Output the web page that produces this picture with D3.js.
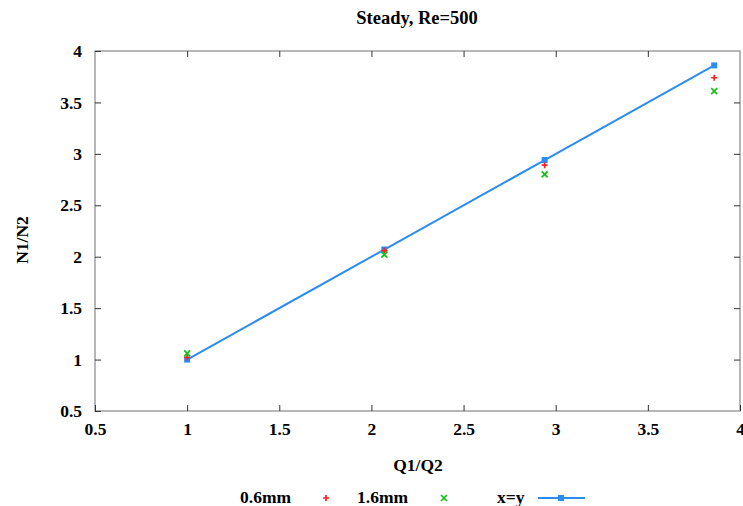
<!DOCTYPE html>
<html><head><meta charset="utf-8">
<script src="https://cdn.jsdelivr.net/npm/d3@7"></script>
<style>body{margin:0;background:#fff;} text{font-family:"Liberation Serif","Times New Roman",serif;font-weight:bold;}</style>
</head><body>
<svg id="c" width="743" height="506"></svg>
<script>
const xTicks = [0.5,1,1.5,2,2.5,3,3.5,4];
const yTicks = [0.5,1,1.5,2,2.5,3,3.5,4];
const qRatio = [1, 2.07, 2.94, 3.86];
const s06 = [1.02, 2.06, 2.89, 3.74];
const s16 = [1.06, 2.02, 2.80, 3.61];
const sxy = [1, 2.07, 2.94, 3.86];

const svg = d3.select("#c");
const L=95, R=740, T=51, B=411;
const x = d3.scaleLinear().domain([0.5,4]).range([L,R]);
const y = d3.scaleLinear().domain([0.5,4]).range([B,T]);
const fmt = d => String(d);
const axcol = "#888";
const tl = 6;
const fs = 17.5;

svg.append("rect").attr("x",L).attr("y",T).attr("width",R-L).attr("height",B-T)
  .attr("fill","none").attr("stroke",axcol).attr("stroke-width",1.2);

function styleAxis(g){ g.select(".domain").remove(); g.selectAll(".tick line").attr("stroke","#333"); g.selectAll("text").attr("font-size",fs).attr("fill","#000").attr("font-family","Liberation Serif, serif").attr("font-weight","bold"); }

svg.append("g").attr("transform",`translate(0,${B})`).call(d3.axisBottom(x).tickValues(xTicks).tickFormat(fmt).tickSizeInner(-tl).tickPadding(12)).call(styleAxis);
svg.append("g").attr("transform",`translate(0,${T})`).call(d3.axisTop(x).tickValues(xTicks.slice(1,-1)).tickFormat("").tickSizeInner(-tl)).call(styleAxis);
svg.append("g").attr("transform",`translate(${L},0)`).call(d3.axisLeft(y).tickValues(yTicks).tickFormat(fmt).tickSizeInner(-tl).tickPadding(13)).call(styleAxis);
svg.append("g").attr("transform",`translate(${R},0)`).call(d3.axisRight(y).tickValues(yTicks.slice(1,-1)).tickFormat("").tickSizeInner(-tl)).call(styleAxis);

svg.append("text").attr("x",417).attr("y",24).attr("text-anchor","middle").attr("font-size",18.5).text("Steady, Re=500");
svg.append("text").attr("x",418).attr("y",471).attr("text-anchor","middle").attr("font-size",fs).text("Q1/Q2");
svg.append("text").attr("transform","translate(28,240) rotate(-90)").attr("text-anchor","middle").attr("font-size",fs).text("N1/N2");

const blue="#2a8df2", red="#ff2020", green="#10c010";
const line = d3.line().x((d,i)=>x(qRatio[i])).y(d=>y(d));
svg.append("path").datum(sxy).attr("d",line).attr("fill","none").attr("stroke",blue).attr("stroke-width",2);
svg.selectAll(".sq").data(sxy).enter().append("rect").attr("x",(d,i)=>x(qRatio[i])-3).attr("y",d=>y(d)-3).attr("width",6).attr("height",6).attr("fill",blue);

function plus(g,cx,cy,c){ g.append("path").attr("d",`M${cx-3},${cy}H${cx+3}M${cx},${cy-3}V${cy+3}`).attr("stroke",c).attr("stroke-width",1.7); }
function cross(g,cx,cy,c){ g.append("path").attr("d",`M${cx-3},${cy-3}L${cx+3},${cy+3}M${cx-3},${cy+3}L${cx+3},${cy-3}`).attr("stroke",c).attr("stroke-width",1.7); }
const pg = svg.append("g");
s06.forEach((d,i)=>plus(pg,x(qRatio[i]),y(d),red));
s16.forEach((d,i)=>cross(pg,x(qRatio[i]),y(d),green));

const ly=497;
svg.append("text").attr("x",240).attr("y",ly+6).attr("font-size",fs).text("0.6mm");
plus(svg,326,ly+1,red);
svg.append("text").attr("x",357).attr("y",ly+6).attr("font-size",fs).text("1.6mm");
cross(svg,444,ly+1,green);
svg.append("text").attr("x",497).attr("y",ly+6).attr("font-size",fs).text("x=y");
svg.append("line").attr("x1",538).attr("x2",585).attr("y1",ly+1).attr("y2",ly+1).attr("stroke",blue).attr("stroke-width",2);
svg.append("rect").attr("x",558).attr("y",ly-2).attr("width",6).attr("height",6).attr("fill",blue);
</script>
</body></html>
